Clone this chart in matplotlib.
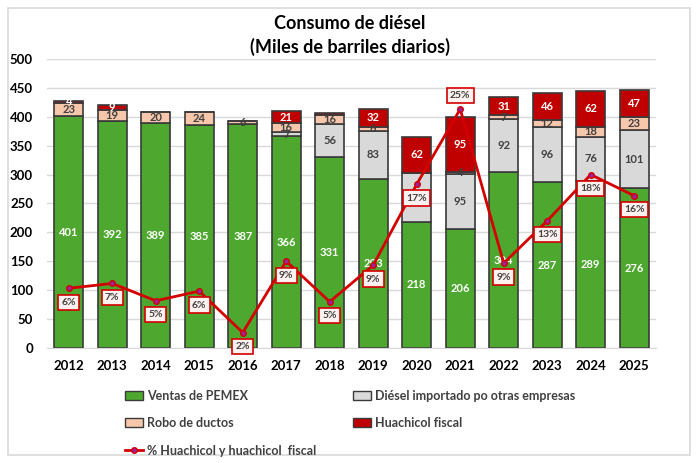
import numpy as np
import matplotlib
matplotlib.use('Agg')
import matplotlib.pyplot as plt
from matplotlib.patches import Rectangle, Patch
from matplotlib.lines import Line2D

plt.rcParams['font.family'] = ['Lato', 'DejaVu Sans']

# 数据
years = ['2012', '2013', '2014', '2015', '2016', '2017', '2018', '2019',
         '2020', '2021', '2022', '2023', '2024', '2025']
ventas_pemex = [401, 392, 389, 385, 387, 366, 331, 293, 218, 206, 304, 287, 289, 276]
diesel_importado = [0, 0, 0, 0, 0, 7, 56, 83, 85, 95, 92, 96, 76, 101]
robo_ductos = [23, 19, 20, 24, 6, 16, 16, 6, 0, 4, 7, 12, 18, 23]
huachicol_fiscal = [4, 9, 0, 0, 0, 21, 3, 32, 62, 95, 31, 46, 62, 47]
pct_huachicol = [6.2, 6.7, 4.9, 5.9, 1.6, 9.0, 4.8, 8.6, 17.0, 24.8, 8.8, 13.2, 18.0, 15.8]
pct_labels = ['6%', '7%', '5%', '6%', '2%', '9%', '5%', '9%', '17%', '25%', '9%', '13%', '18%', '16%']

c_green = '#4ea72e'
c_grey = '#d9d9d9'
c_pink = '#f7c7ac'
c_red = '#c00000'
c_edge = '#3a3a3a'

fig = plt.figure(figsize=(7, 4.63), dpi=100)
# 外框
fig.patches.append(Rectangle((8 / 700, 8 / 463), 682 / 700, 447 / 463, transform=fig.transFigure,
                             fill=False, edgecolor='#d9d9d9', linewidth=1.2))

ax = fig.add_axes([0.0671, 0.2484, 0.87, 0.6242])
x = np.arange(len(years))
w = 0.67

series = [(ventas_pemex, c_green, 'white'),
          (diesel_importado, c_grey, '#404040'),
          (robo_ductos, c_pink, '#404040'),
          (huachicol_fiscal, c_red, 'white')]
bottom = np.zeros(len(years))
for vals, col, tcol in series:
    vals = np.array(vals, dtype=float)
    ax.bar(x, vals, w, bottom=bottom, color=col, edgecolor=c_edge, linewidth=1.2, zorder=2)
    for i, v in enumerate(vals):
        if v > 3:
            ax.text(x[i], bottom[i] + v / 2, str(int(v)), ha='center', va='center',
                    color=tcol, fontsize=8, fontweight='bold', zorder=3)
    bottom += vals

ax.set_xlim(-0.5, len(years) - 0.5)
ax.set_ylim(0, 500)
ax.set_yticks(range(0, 501, 50))
ax.set_xticks(x)
ax.set_xticklabels(years)
ax.yaxis.grid(True, color='#d9d9d9', linewidth=1)
ax.set_axisbelow(True)
for s in ['top', 'right', 'left']:
    ax.spines[s].set_visible(False)
ax.spines['bottom'].set_color('#d9d9d9')
ax.tick_params(length=0, labelsize=9.5, colors='black')
ax.tick_params(axis='x', pad=9)
ax.tick_params(axis='y', pad=10)
for lab in ax.get_xticklabels() + ax.get_yticklabels():
    lab.set_fontweight('bold')

# 次坐标轴（隐藏）
ax2 = ax.twinx()
ax2.set_ylim(0, 30)
ax2.axis('off')
ax2.plot(x, pct_huachicol, color='#d40000', linewidth=2, marker='o', markersize=4,
         markerfacecolor='#a0209a', markeredgecolor='#d40000', zorder=4)
for i, v in enumerate(pct_huachicol):
    dy = 10 if v > 20 else -10
    ax2.annotate(pct_labels[i], (x[i], v), xytext=(0, dy), textcoords='offset points',
                 ha='center', va='center', fontsize=7.5, fontweight='bold', color='#404040',
                 bbox=dict(boxstyle='square,pad=0.3', facecolor='#fdf2ef', edgecolor='#d40000', linewidth=1.2),
                 zorder=5)

fig.text(0.5, 0.950, 'Consumo de diésel', ha='center', va='center', fontsize=13, fontweight='bold')
fig.text(0.5, 0.899, '(Miles de barriles diarios)', ha='center', va='center', fontsize=13, fontweight='bold')

handles = [Patch(facecolor=c_green, edgecolor=c_edge, label='Ventas de PEMEX'),
           Patch(facecolor=c_pink, edgecolor=c_edge, label='Robo de ductos'),
           Line2D([0], [0], color='#d40000', linewidth=2, marker='o', markersize=4,
                  markerfacecolor='#a0209a', markeredgecolor='#d40000',
                  label='% Huachicol y huachicol  fiscal'),
           Patch(facecolor=c_grey, edgecolor=c_edge, label='Diésel importado po otras empresas'),
           Patch(facecolor=c_red, edgecolor=c_edge, label='Huachicol fiscal')]
fig.legend(handles=handles, ncol=2, loc='center', bbox_to_anchor=(0.5, 0.086), frameon=False,
           prop={'weight': 'bold', 'size': 9}, labelcolor='#404040',
           handlelength=1.5, handletextpad=0.3, columnspacing=2.9, labelspacing=1.25)

fig.savefig('out.png', dpi=100)
